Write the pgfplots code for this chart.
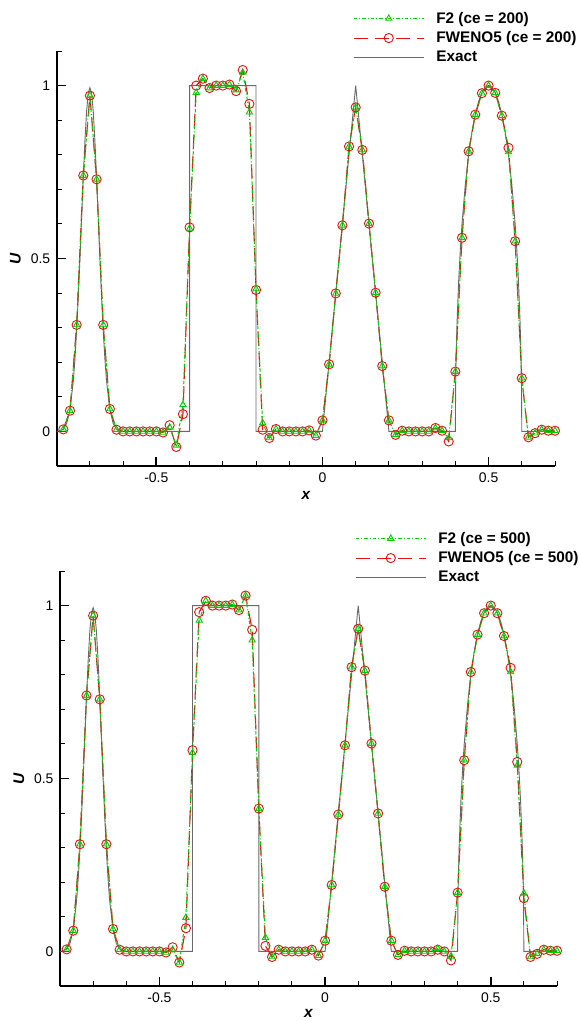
\documentclass[border=0pt]{standalone}
\usepackage{pgfplots}
\pgfplotsset{compat=1.18}
\usepackage{pgfplotstable}
\usepackage{fontspec}
\setmainfont{Liberation Sans}

\definecolor{fgreen}{RGB}{0,205,0}
\definecolor{fred}{RGB}{225,20,20}
\definecolor{fgray}{RGB}{105,105,105}

\tikzset{lblfont/.style={font=\fontsize{15.5}{17}\selectfont\bfseries\itshape}}

% x  F2  FWENO5   (ce = 200)
\pgfplotstableread{
x     f2      fw
-0.78 0.006   0.006
-0.76 0.060   0.060
-0.74 0.308   0.308
-0.72 0.740   0.740
-0.70 0.971   0.971
-0.68 0.729   0.729
-0.66 0.308   0.308
-0.64 0.065   0.065
-0.62 0.005   0.005
-0.60 0.000   0.000
-0.58 0.000   0.000
-0.56 0.000   0.000
-0.54 0.000   0.000
-0.52 0.000   0.000
-0.50 0.000   0.000
-0.48 -0.003  -0.003
-0.46 0.012   0.018
-0.44 -0.040  -0.045
-0.42 0.077   0.050
-0.40 0.587   0.590
-0.38 0.980   1.000
-0.36 1.020   1.020
-0.34 0.993   0.993
-0.32 1.000   1.000
-0.30 1.000   1.000
-0.28 1.003   1.003
-0.26 0.987   0.984
-0.24 1.038   1.045
-0.22 0.923   0.947
-0.20 0.412   0.409
-0.18 0.024   0.005
-0.16 -0.019  -0.019
-0.14 0.007   0.007
-0.12 0.000   0.000
-0.10 0.000   0.000
-0.08 0.000   0.000
-0.06 0.000   0.000
-0.04 0.003   0.003
-0.02 -0.012  -0.012
0.00  0.032   0.032
0.02  0.194   0.194
0.04  0.399   0.399
0.06  0.596   0.596
0.08  0.824   0.824
0.10  0.937   0.937
0.12  0.814   0.814
0.14  0.601   0.601
0.16  0.401   0.401
0.18  0.189   0.189
0.20  0.032   0.032
0.22  -0.010  -0.010
0.24  0.002   0.002
0.26  0.000   0.000
0.28  0.000   0.000
0.30  0.000   0.000
0.32  0.000   0.000
0.34  0.010   0.010
0.36  0.002   0.002
0.38  -0.019  -0.029
0.40  0.173   0.173
0.42  0.560   0.560
0.44  0.810   0.810
0.46  0.916   0.916
0.48  0.978   0.978
0.50  1.000   1.000
0.52  0.979   0.979
0.54  0.913   0.913
0.56  0.808   0.820
0.58  0.550   0.550
0.60  0.154   0.154
0.62  -0.017  -0.017
0.64  -0.005  -0.005
0.66  0.005   0.005
0.68  0.002   0.002
0.70  0.002   0.002
}\datatop

% x  F2  FWENO5   (ce = 500)
\pgfplotstableread{
x     f2      fw
-0.78 0.006   0.006
-0.76 0.060   0.060
-0.74 0.310   0.310
-0.72 0.740   0.740
-0.70 0.971   0.971
-0.68 0.729   0.729
-0.66 0.310   0.310
-0.64 0.065   0.065
-0.62 0.005   0.005
-0.60 0.000   0.000
-0.58 0.000   0.000
-0.56 0.000   0.000
-0.54 0.000   0.000
-0.52 0.000   0.000
-0.50 0.000   0.000
-0.48 -0.003  -0.003
-0.46 0.005   0.012
-0.44 -0.032  -0.032
-0.42 0.098   0.067
-0.40 0.574   0.582
-0.38 0.957   0.981
-0.36 1.014   1.014
-0.34 1.000   1.000
-0.32 1.000   1.000
-0.30 1.000   1.000
-0.28 1.003   1.003
-0.26 0.987   0.987
-0.24 1.029   1.029
-0.22 0.900   0.930
-0.20 0.413   0.413
-0.18 0.040   0.016
-0.16 -0.016  -0.016
-0.14 0.005   0.005
-0.12 0.000   0.000
-0.10 0.000   0.000
-0.08 0.000   0.000
-0.06 0.000   0.000
-0.04 0.005   0.005
-0.02 -0.012  -0.012
0.00  0.031   0.031
0.02  0.192   0.192
0.04  0.396   0.396
0.06  0.596   0.596
0.08  0.822   0.822
0.10  0.933   0.933
0.12  0.812   0.812
0.14  0.601   0.601
0.16  0.399   0.399
0.18  0.187   0.187
0.20  0.031   0.031
0.22  -0.010  -0.010
0.24  0.002   0.002
0.26  0.000   0.000
0.28  0.000   0.000
0.30  0.000   0.000
0.32  0.000   0.000
0.34  0.008   0.005
0.36  0.000   0.000
0.38  -0.014  -0.026
0.40  0.170   0.170
0.42  0.553   0.553
0.44  0.808   0.808
0.46  0.916   0.916
0.48  0.978   0.978
0.50  1.000   1.000
0.52  0.978   0.978
0.54  0.912   0.912
0.56  0.808   0.820
0.58  0.538   0.548
0.60  0.168   0.154
0.62  -0.016  -0.016
0.64  -0.007  -0.007
0.66  0.005   0.005
0.68  0.002   0.002
0.70  0.002   0.002
}\databot

% exact solution
\pgfplotstableread{
x      u
-0.80  0.000
-0.79  0.002
-0.78  0.007
-0.77  0.023
-0.76  0.063
-0.75  0.146
-0.745 0.210
-0.74  0.292
-0.735 0.389
-0.73  0.500
-0.725 0.618
-0.72  0.735
-0.715 0.841
-0.71  0.926
-0.705 0.978
-0.70  0.994
-0.695 0.978
-0.69  0.926
-0.685 0.841
-0.68  0.735
-0.675 0.618
-0.67  0.500
-0.665 0.389
-0.66  0.292
-0.655 0.210
-0.65  0.146
-0.64  0.063
-0.63  0.023
-0.62  0.007
-0.61  0.002
-0.60  0.000
-0.40  0.000
-0.40  1.000
-0.20  1.000
-0.20  0.000
0.00   0.000
0.10   1.000
0.20   0.000
0.40   0.000
0.401  0.141
0.4025 0.222
0.405  0.312
0.41   0.436
0.415  0.527
0.42   0.600
0.43   0.714
0.44   0.800
0.45   0.866
0.46   0.917
0.47   0.954
0.48   0.980
0.49   0.995
0.50   1.000
0.51   0.995
0.52   0.980
0.53   0.954
0.54   0.917
0.55   0.866
0.56   0.800
0.57   0.714
0.58   0.600
0.585  0.527
0.59   0.436
0.595  0.312
0.5975 0.222
0.599  0.141
0.60   0.000
0.70   0.000
}\dataexact

\pgfplotsset{
  tec/.style={
    scale only axis,
    height=415bp,
    xmin=-0.8, xmax=0.7, ymin=-0.1, ymax=1.1,
    clip=false,
    axis x line=bottom, axis y line=left,
    axis line style={line width=1.8bp, -},
    tick align=inside,
    xtick={-0.5,0,0.5}, xticklabels={-0.5,0,0.5},
    minor xtick={-0.7,-0.6,-0.4,-0.3,-0.2,-0.1,0.1,0.2,0.3,0.4,0.6,0.7},
    ytick={0,0.5,1}, yticklabels={0,0.5,1},
    minor ytick={-0.1,0.1,0.2,0.3,0.4,0.6,0.7,0.8,0.9,1.1},
    major tick length=9bp, minor tick length=5.5bp,
    every major tick/.append style={line width=1.8bp, black},
    every minor tick/.append style={line width=0.9bp, black},
    tick label style={font=\fontsize{14}{16}\selectfont},
    xticklabel style={yshift=-3bp},
    yticklabel style={xshift=-3bp},
    xlabel={x}, ylabel={U},
    legend image code/.code={\draw[mark repeat=2,mark phase=2,##1] plot coordinates {(0bp,0bp) (35bp,0bp) (70bp,0bp)};},
    reverse legend,
    legend cell align=left,
    legend style={draw=none, fill=none, anchor=north west, inner sep=0pt,
      row sep=3bp, column sep=10bp,
      font=\fontsize{15.4}{17}\selectfont\bfseries},
  },
  exact/.style={fgray, line width=0.9bp},
  fw/.style={fred, line width=1.1bp, dash pattern=on 14bp off 7bp,
    mark=o, mark size=4.6bp, mark options={solid, line width=0.9bp}},
  ftwo/.style={fgreen, line width=1bp, dash pattern=on 3.5bp off 2bp on 1bp off 2bp,
    mark=triangle, mark size=3.6bp, mark options={solid, line width=0.9bp}},
}

\begin{document}
\begin{tikzpicture}
\path[use as bounding box] (0,0) rectangle (580bp,-1021bp);

\begin{axis}[tec, width=498.3bp,
  at={(56.7bp,-466bp)}, anchor=south west,
  every axis x label/.style={at={(axis description cs:0.5,-0.072)}, anchor=center, lblfont},
  every axis y label/.style={at={(axis description cs:-0.083,0.5)}, rotate=90, anchor=center, lblfont},
  legend style={at={(0.5946,1.0988)}},
]
\addplot[exact] table[x=x,y=u] {\dataexact};
\addplot[fw] table[x=x,y=fw] {\datatop};
\addplot[ftwo] table[x=x,y=f2] {\datatop};
\legend{Exact, FWENO5 (ce = 200), F2 (ce = 200)}
\end{axis}

\begin{axis}[tec, width=497bp,
  at={(60bp,-986bp)}, anchor=south west,
  every axis x label/.style={at={(axis description cs:0.5,-0.067)}, anchor=center, lblfont},
  every axis y label/.style={at={(axis description cs:-0.0825,0.5)}, rotate=90, anchor=center, lblfont},
  legend style={at={(0.5936,1.0988)}},
]
\addplot[exact] table[x=x,y=u] {\dataexact};
\addplot[fw] table[x=x,y=fw] {\databot};
\addplot[ftwo] table[x=x,y=f2] {\databot};
\legend{Exact, FWENO5 (ce = 500), F2 (ce = 500)}
\end{axis}
\end{tikzpicture}
\end{document}
